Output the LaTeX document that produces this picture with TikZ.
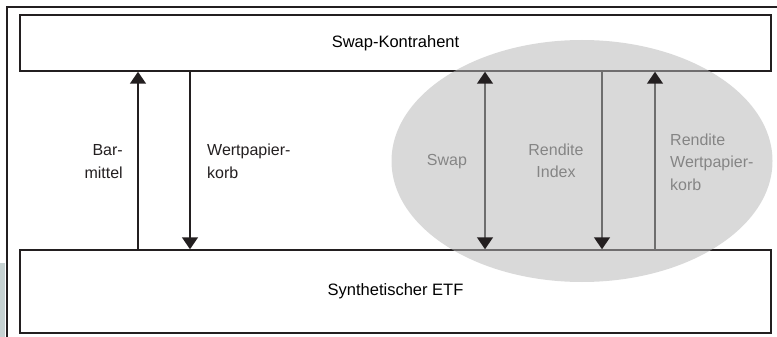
\documentclass[tikz,border=0pt]{standalone}
\usepackage{fontspec}
\setmainfont{Liberation Sans}
\usetikzlibrary{shapes.geometric, arrows.meta, positioning, calc}
\definecolor{linie}{HTML}{231F20}
\definecolor{blase}{HTML}{B7B7B7}
\definecolor{grautext}{HTML}{858585}
\definecolor{graulinie}{HTML}{6E6E6E}
\definecolor{randstreifen}{HTML}{C6D2D2}
\tikzset{
  kasten/.style={
    draw=linie, line width=1.5pt, minimum width=751pt,
    inner sep=0pt, align=center, font=\fontsize{16.5}{22}\selectfont
  },
  fluss/.style={-{Triangle[length=12pt,width=16pt,color=linie]},
    line width=1.5pt, color=#1},
  fluss/.default=linie,
  lbl/.style={inner sep=0pt, font=\fontsize{16}{22.5}\selectfont, text=#1},
  lbl/.default=linie,
}

\begin{document}
\begin{tikzpicture}[x=1pt, y=-1pt]
  \useasboundingbox (0,0) rectangle (777,337);

  % Rahmen und Randstreifen
  \fill[randstreifen] (0,263) rectangle (5,337);
  \draw[linie, line width=2pt] (7,340) -- (7,7) -- (780,7);

  % Beteiligte
  \node[kasten, minimum height=56pt] (kontra) at (395.5,43) {Swap-Kontrahent};
  \node[kasten, minimum height=83pt] (etf) at (395.5,291.5) {Synthetischer ETF};

  % Positionen der Pfeile
  \coordinate (xbar) at (138,0);
  \coordinate (xkorb) at (190,0);
  \coordinate (xswap) at (485,0);
  \coordinate (xindex) at (602,0);
  \coordinate (xrendite) at (655,0);

  % Barmittel gegen Wertpapierkorb
  \draw[fluss] (etf.north -| xbar) -- (kontra.south -| xbar);
  \draw[fluss] (kontra.south -| xkorb) -- (etf.north -| xkorb);
  \node[lbl, anchor=east, align=right] (barm) at (123,161.5) {Bar-\\mittel};
  \node[lbl, anchor=west, align=left] (wpk) at (207,161.5) {Wertpapier-\\korb};

  % Swap-Blase
  \node[ellipse, fill=blase, fill opacity=0.525, minimum width=381pt,
        minimum height=242pt, inner sep=0pt] (blase) at (582,161) {};

  \draw[fluss=graulinie, {Triangle[length=12pt,width=16pt,color=linie]}-{Triangle[length=12pt,width=16pt,color=linie]}]
    (kontra.south -| xswap) -- (etf.north -| xswap);
  \draw[fluss=graulinie] (kontra.south -| xindex) -- (etf.north -| xindex);
  \draw[fluss=graulinie] (etf.north -| xrendite) -- (kontra.south -| xrendite);

  \node[lbl=grautext] (swap) at (447,162) {Swap};
  \node[lbl=grautext, align=center] (rindex) at (556,161) {Rendite\\Index};
  \node[lbl=grautext, anchor=west, align=left] (rkorb) at (670,162)
    {Rendite\\Wertpapier-\\korb};
\end{tikzpicture}
\end{document}
